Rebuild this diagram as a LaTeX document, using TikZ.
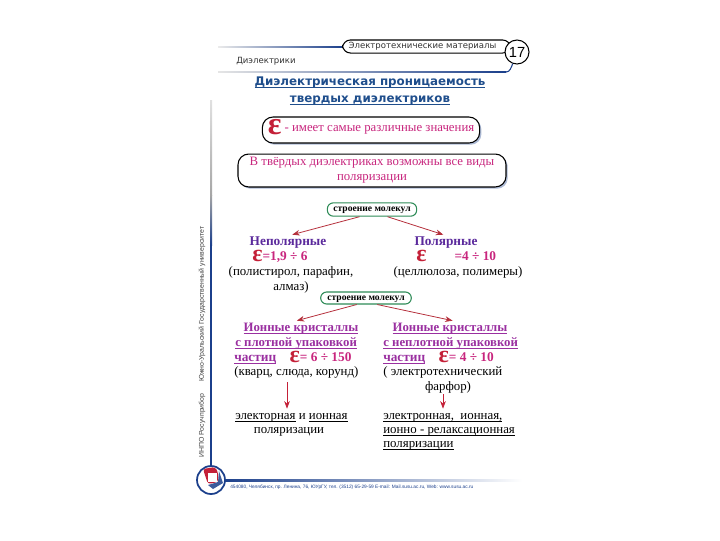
\documentclass[tikz,border=0pt]{standalone}
\usepackage{fontspec}
\setmainfont{Liberation Serif}
\newfontfamily\headfont{DejaVu Sans}
\newfontfamily\plainsans{Liberation Sans}
\usepackage{xcolor}
\usetikzlibrary{arrows.meta,positioning,shadows}

\definecolor{navyline}{HTML}{1B3F8B}
\definecolor{titleblue}{HTML}{1F4E8C}
\definecolor{pinktext}{HTML}{C8267E}
\definecolor{epsred}{HTML}{C42038}
\definecolor{violettext}{HTML}{5B2A9C}
\definecolor{iontext}{HTML}{9A2FA0}
\definecolor{pillgreen}{HTML}{2E8B57}
\definecolor{arrred}{HTML}{B5303C}

\newcommand{\epsbig}[2]{\smash{\raisebox{#2}{\fontsize{#1}{#1}\selectfont\bfseries\textcolor{epsred}{ε}}}}
\newcommand{\ulined}[1]{\underline{\smash{#1}}}

\begin{document}
\begin{tikzpicture}[
  x=0.75pt, y=-0.75pt,
  >=Stealth,
  line/.style   = {inner sep=0pt, text height=8pt, text depth=2.6pt, font=\fontsize{9.65}{12}\selectfont},
  head/.style   = {inner sep=0pt, text height=7pt, text depth=1.5pt, font=\headfont\bfseries\fontsize{8.9}{10}\selectfont, text=titleblue},
  hdr/.style    = {inner sep=0pt, font=\headfont\fontsize{6.4}{7}\selectfont, text=black!80},
  side/.style   = {inner sep=0pt, rotate=90, font=\plainsans\fontsize{5.2}{6}\selectfont, text=black!75},
  box/.style    = {rectangle, draw=black, thick, rounded corners=8pt, fill=white, align=center,
                   inner sep=0pt, text=pinktext, font=\fontsize{9.6}{11.2}\selectfont,
                   drop shadow={shadow xshift=1.3pt, shadow yshift=-1.3pt, fill=navyline!45, opacity=.8}},
  pill/.style   = {rectangle, draw=pillgreen, thick, rounded corners=4.5pt, fill=white, inner sep=0pt,
                   text height=5pt, text depth=1.5pt, font=\bfseries\fontsize{7.2}{8}\selectfont},
  kind/.style   = {line, font=\bfseries\fontsize{10}{12}\selectfont, text=violettext},
  ion/.style    = {line, font=\bfseries\fontsize{9.6}{12}\selectfont, text=iontext},
  val/.style    = {line, font=\bfseries\fontsize{10}{12}\selectfont, text=pinktext},
  arr/.style    = {->, semithick, draw=arrred},
  varr/.style   = {->, semithick, draw=epsred}
]
\useasboundingbox (0,0) rectangle (720,540);

%%% ---- FRAME ----
\shade[left color=black!8, right color=navyline] (218,46.5) rectangle (343,47.5);
\shade[left color=black!10, right color=navyline] (218,71.5) rectangle (506,72.6);
\shade[top color=black!12, bottom color=black!35] (210,100) rectangle (212,195);
\shade[top color=black!35, bottom color=navyline] (210,195) rectangle (212,245);
\fill[navyline] (210,245) rectangle (212,467);
\shade[left color=navyline, right color=white] (222,479.5) rectangle (522,481);

\node[pill, draw=black, rounded corners=6pt, minimum width=126pt, minimum height=9.8pt,
      hdr, anchor=west] (subject) at (342,46.5) {\hspace{-6pt}Электротехнические материалы\hspace{8pt}};
\node[circle, draw=black, thick, fill=white, inner sep=0pt, minimum size=18pt,
      font=\plainsans\fontsize{11}{12}\selectfont] (page) at (517,52) {17};
\draw[navyline, thick] (506,72) to[out=0, in=-115] (page.-110);
\node[hdr, anchor=west] (chapter) at (236,61.5) {Диэлектрики};

\node[side, anchor=west] (publisher) at (202,458) {ИНПО Росучприбор};
\node[side, anchor=west] (univer)    at (202,382) {Южно-Уральский Государственный университет};

\node[circle, draw=navyline, line width=1.3pt, fill=white, minimum size=21pt, inner sep=0pt] (logo) at (211,480) {};
\fill[epsred, rounded corners=2pt] (203,469) -- (215,467) -- (218,472) -- (218,482) -- (208,484) -- cycle;
\fill[navyline!85] (219,471) -- (223,483) -- (213,489) -- (208,485) -- (218,482) -- cycle;
\fill[white] (208,473) rectangle (217,482);
\node[inner sep=0pt, anchor=west, font=\plainsans\fontsize{3.6}{4}\selectfont, text=navyline] (address) at (230,487)
  {454080, Челябинск, пр. Ленина, 76, ЮУрГУ, тел. (3512) 65-29-59 E-mail: Mail.susu.ac.ru, Web: www.susu.ac.ru};

%%% ---- TITLE ----
\node[head] (title1) at (370,82) {\ulined{Диэлектрическая проницаемость}};
\node[head, below=3.5pt of title1] (title2) {\ulined{твердых диэлектриков}};

\node[box, minimum width=163pt, minimum height=19.5pt] (epsbox) at (371,130)
  {\epsbig{24}{-2.5pt}\ - имеет самые различные значения};
\node[box, minimum width=201pt, minimum height=24.7pt] (viewbox) at (372,170.5)
  {В твёрдых диэлектриках возможны все виды\\поляризации};

%%% ---- MOLECULES, FIRST ROW ----
\node[pill, minimum width=67pt, minimum height=10pt] (mola) at (372,209.5) {строение молекул};

\node[kind] (nonpolar) at (288,242) {Неполярные};
\node[val, anchor=west] (nonval) at (252,257) {\epsbig{18}{-0.7pt}=1,9 ÷ 6};
\node[line] (nonlist1) at (291,272) {(полистирол, парафин,};
\node[line, below=0.5pt of nonlist1] (nonlist2) {алмаз)};

\node[kind] (polar) at (446,242) {Полярные};
\node[val, anchor=west] (polval) at (416,257) {\epsbig{18}{-0.7pt}\hspace{21pt}=4 ÷ 10};
\node[line] (pollist) at (458,272) {(целлюлоза, полимеры)};

\draw[arr] (mola.-150) -- (nonpolar.60);
\draw[arr] (mola.-25)  -- (polar.110);

%%% ---- MOLECULES, SECOND ROW ----
\node[pill, minimum width=68pt, minimum height=9pt] (molb) at (366,298) {строение молекул};

\node[ion] (ionl1) at (301,328) {\ulined{Ионные кристаллы}};
\node[ion, anchor=west] (ionl2) at (235,343) {\ulined{с плотной упаковкой}};
\node[val, anchor=west] (ionl3) at (234,358) {\textcolor{iontext}{\ulined{частиц}}\hspace{10pt}\epsbig{18}{-0.7pt}= 6 ÷ 150};
\node[line, anchor=west] (ionl4) at (234,372) {(кварц, слюда, корунд)};
\node[line, anchor=west] (resl1) at (235,416) {\ulined{электорная} и \ulined{ионная}};
\node[line] (resl2) at (289,430) {поляризации};

\node[ion] (ionr1) at (450,328) {\ulined{Ионные кристаллы}};
\node[ion, anchor=west] (ionr2) at (383,343) {\ulined{с неплотной упаковкой}};
\node[val, anchor=west] (ionr3) at (383,358) {\textcolor{iontext}{\ulined{частиц}}\hspace{10pt}\epsbig{18}{-0.7pt}= 4 ÷ 10};
\node[line, anchor=west] (ionr4) at (383,372) {( электротехнический};
\node[line] (ionr5) at (448,387) {фарфор)};
\node[line, anchor=west] (resr1) at (383,416) {\ulined{электронная,\ \ ионная,}};
\node[line, anchor=west] (resr2) at (383,430) {\ulined{ионно - релаксационная}};
\node[line, anchor=west] (resr3) at (383,444) {\ulined{поляризации}};

\draw[arr] (molb.-145) -- (ionl1.120);
\draw[arr] (molb.-30)  -- (ionr1.70);

\draw[varr] (ionl4.south -| resl2) ++(-2,3) coordinate (startl) (startl) -- (startl |- resl1.north);
\draw[varr] (ionr5.south) ++(-5,0) coordinate (startr) (startr) -- (startr |- resr1.north);
\end{tikzpicture}
\end{document}
